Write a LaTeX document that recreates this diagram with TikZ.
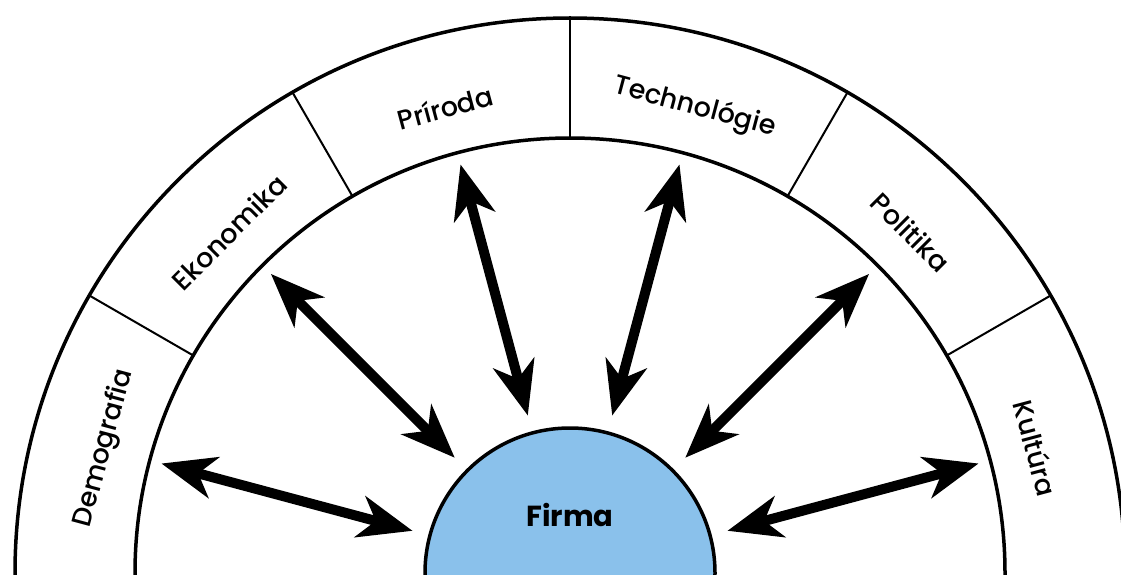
\documentclass[tikz,border=0pt]{standalone}
\usepackage{fontspec}
\setmainfont{Poppins}[UprightFont=* Medium, BoldFont=* Bold]
\usetikzlibrary{arrows.meta,calc}
\definecolor{firmablue}{RGB}{138,193,235}
\tikzset{
  ring/.style={line width=3.5pt},
  divider/.style={line width=2pt},
  lab/.style={font=\fontsize{27}{27}\selectfont, inner sep=0pt},
  arr/.style={line width=10pt, {Stealth[length=54pt,width=42pt,inset=16pt]}-{Stealth[length=54pt,width=42pt,inset=16pt]}},
  firmastyle/.style={circle, draw, line width=3.5pt, fill=firmablue, minimum size=290pt, inner sep=0pt}
}
\begin{document}
\begin{tikzpicture}[x=1pt,y=1pt]
\clip (0,0) rectangle (1121,574);
\fill[white] (0,0) rectangle (1121,574);
\coordinate (C) at (570,1);
\draw[ring] (C) circle (555);
\draw[ring] (C) circle (435);
\foreach \a in {30,60,90,120,150}{
  \coordinate (d1\a) at ($(C)+(\a:435)$);
  \coordinate (d2\a) at ($(C)+(\a:555)$);
  \draw[divider] (d1\a) -- (d2\a);
}
\node[firmastyle] (firma) at (C) {};
\node[font=\bfseries\fontsize{29}{29}\selectfont] (firmatext) at (570,59) {Firma};
\foreach \a/\t in {165/Demografia,135/Ekonomika,105/Príroda,75/Technológie,45/Politika,15/Kultúra}{
  \pgfmathsetmacro{\rot}{\a-90}
  \node[lab, rotate=\rot] (l\a) at ($(C)+(\a:482)$) {\t};
  \coordinate (ao\a) at ($(C)+(\a:423)$);
  \coordinate (ai\a) at ($(C)+(\a:163)$);
  \draw[arr] (ao\a) -- (ai\a);
}
\end{tikzpicture}
\end{document}
